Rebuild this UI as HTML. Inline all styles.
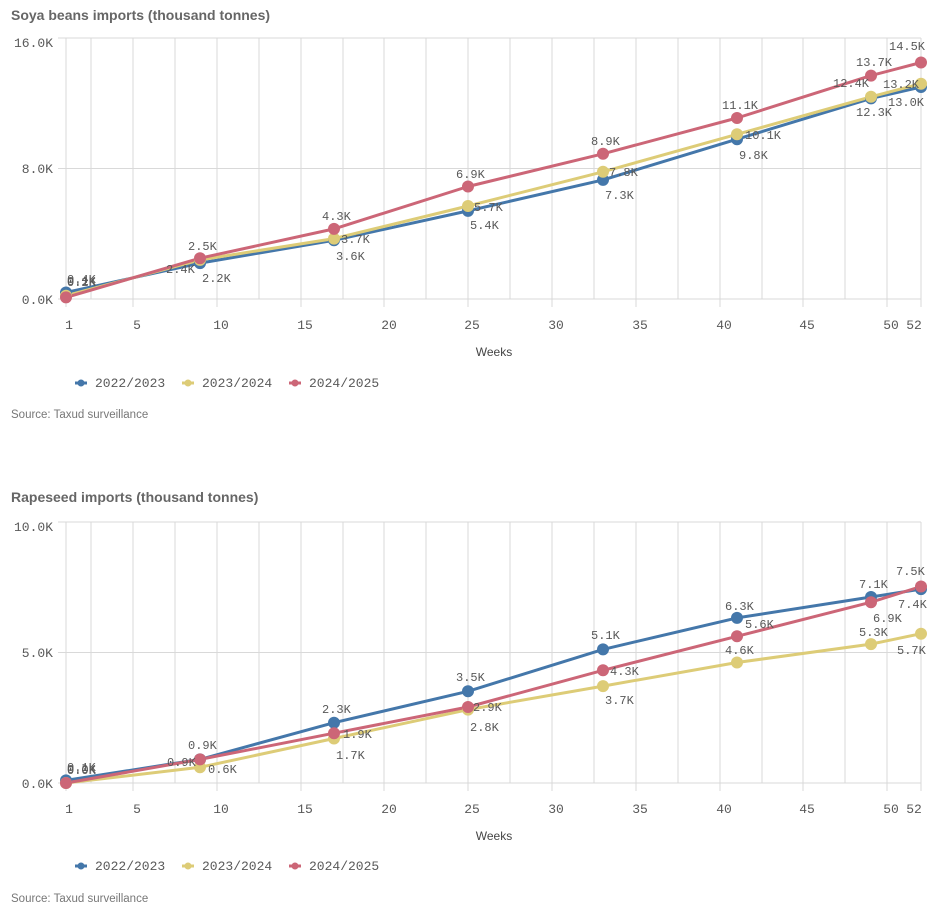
<!DOCTYPE html>
<html><head><meta charset="utf-8"><style>
body{margin:0;background:#fff;width:942px;height:916px;overflow:hidden}
svg{display:block}
.t{font-family:"Liberation Sans",sans-serif;font-weight:bold;font-size:14px;fill:#666}
.m{font-family:"Liberation Mono",monospace;font-size:12px;fill:#595959}
.k{font-family:"Liberation Mono",monospace;font-size:13px;fill:#595959}
.s{font-family:"Liberation Sans",sans-serif;font-size:11.5px;fill:#777}
.w{font-family:"Liberation Sans",sans-serif;font-size:12px;fill:#444}
.g line{stroke:#d9d9d9;stroke-width:1}
.l{fill:none;stroke-width:3;stroke-linejoin:round}
</style></head><body>
<svg width="942" height="916" viewBox="0 0 942 916">
<defs>
<g id="grid" class="g">
<line x1="91" y1="0" x2="91" y2="261"/><line x1="133" y1="0" x2="133" y2="269"/><line x1="175" y1="0" x2="175" y2="261"/><line x1="217" y1="0" x2="217" y2="269"/><line x1="259" y1="0" x2="259" y2="261"/><line x1="301" y1="0" x2="301" y2="269"/><line x1="343" y1="0" x2="343" y2="261"/><line x1="384" y1="0" x2="384" y2="269"/><line x1="426" y1="0" x2="426" y2="261"/><line x1="468" y1="0" x2="468" y2="269"/><line x1="510" y1="0" x2="510" y2="261"/><line x1="552" y1="0" x2="552" y2="269"/><line x1="594" y1="0" x2="594" y2="261"/><line x1="636" y1="0" x2="636" y2="269"/><line x1="678" y1="0" x2="678" y2="261"/><line x1="720" y1="0" x2="720" y2="269"/><line x1="762" y1="0" x2="762" y2="261"/><line x1="803" y1="0" x2="803" y2="269"/><line x1="845" y1="0" x2="845" y2="261"/><line x1="887" y1="0" x2="887" y2="269"/><line x1="921" y1="0" x2="921" y2="269"/>
<line x1="66" y1="0" x2="66" y2="269"/>
<line x1="58" y1="0" x2="921" y2="0"/><line x1="58" y1="130.5" x2="921" y2="130.5"/><line x1="58" y1="261" x2="921" y2="261"/>
</g>
<g id="xt" class="k">
<text x="69" y="291" text-anchor="middle">1</text><text x="137" y="291" text-anchor="middle">5</text><text x="221" y="291" text-anchor="middle">10</text><text x="305" y="291" text-anchor="middle">15</text><text x="389" y="291" text-anchor="middle">20</text><text x="472" y="291" text-anchor="middle">25</text><text x="556" y="291" text-anchor="middle">30</text><text x="640" y="291" text-anchor="middle">35</text><text x="724" y="291" text-anchor="middle">40</text><text x="807" y="291" text-anchor="middle">45</text><text x="891" y="291" text-anchor="middle">50</text><text x="914" y="291" text-anchor="middle">52</text>
<text class="w" x="494" y="318" text-anchor="middle">Weeks</text>
</g>
<g id="leg">
<line x1="75" y1="0" x2="87" y2="0" stroke="#4477aa" stroke-width="3"/><circle cx="81" cy="0" r="3.5" fill="#4477aa"/>
<text class="k" x="95" y="4">2022/2023</text>
<line x1="182" y1="0" x2="194" y2="0" stroke="#ddcc77" stroke-width="3"/><circle cx="188" cy="0" r="3.5" fill="#ddcc77"/>
<text class="k" x="202" y="4">2023/2024</text>
<line x1="289" y1="0" x2="301" y2="0" stroke="#cc6677" stroke-width="3"/><circle cx="295" cy="0" r="3.5" fill="#cc6677"/>
<text class="k" x="309" y="4">2024/2025</text>
</g>
</defs>

<!-- Chart 1 -->
<text class="t" x="11" y="20">Soya beans imports (thousand tonnes)</text>
<g transform="translate(0,38)"><use href="#grid"/><use href="#xt"/></g>
<g class="k" text-anchor="end"><text x="53" y="47">16.0K</text><text x="53" y="173">8.0K</text><text x="53" y="304">0.0K</text></g>

<polyline class="l" stroke="#4477aa" points="66,292.5 200,263.1 334,240.3 468,210.9 603,179.9 737,139.2 871,98.4 921,87"/>
<polyline class="l" stroke="#ddcc77" points="66,295.7 200,259.9 334,238.6 468,206 603,171.8 737,134.3 871,96.8 921,83.7"/>
<polyline class="l" stroke="#cc6677" points="66,297.4 200,258.2 334,228.9 468,186.5 603,153.8 737,118 871,75.6 921,62.5"/>
<g fill="#4477aa"><circle cx="66" cy="292.5" r="6"/><circle cx="200" cy="263.1" r="6"/><circle cx="334" cy="240.3" r="6"/><circle cx="468" cy="210.9" r="6"/><circle cx="603" cy="179.9" r="6"/><circle cx="737" cy="139.2" r="6"/><circle cx="871" cy="98.4" r="6"/><circle cx="921" cy="87" r="6"/></g>
<g fill="#ddcc77"><circle cx="66" cy="295.7" r="6"/><circle cx="200" cy="259.9" r="6"/><circle cx="334" cy="238.6" r="6"/><circle cx="468" cy="206" r="6"/><circle cx="603" cy="171.8" r="6"/><circle cx="737" cy="134.3" r="6"/><circle cx="871" cy="96.8" r="6"/><circle cx="921" cy="83.7" r="6"/></g>
<g fill="#cc6677"><circle cx="66" cy="297.4" r="6"/><circle cx="200" cy="258.2" r="6"/><circle cx="334" cy="228.9" r="6"/><circle cx="468" cy="186.5" r="6"/><circle cx="603" cy="153.8" r="6"/><circle cx="737" cy="118" r="6"/><circle cx="871" cy="75.6" r="6"/><circle cx="921" cy="62.5" r="6"/></g>
<g class="m">
<text x="67" y="283">0.4K</text><text x="67" y="286">0.2K</text><text x="67" y="285">0.1K</text>
<text x="188" y="250">2.5K</text><text x="166" y="273">2.4K</text><text x="202" y="282">2.2K</text>
<text x="322" y="220">4.3K</text><text x="341" y="243">3.7K</text><text x="336" y="260">3.6K</text>
<text x="456" y="178">6.9K</text><text x="474" y="211">5.7K</text><text x="470" y="229">5.4K</text>
<text x="591" y="145">8.9K</text><text x="609" y="176">7.8K</text><text x="605" y="199">7.3K</text>
<text x="722" y="109">11.1K</text><text x="745" y="139">10.1K</text><text x="739" y="159">9.8K</text>
<text x="856" y="66">13.7K</text><text x="833" y="87">12.4K</text><text x="856" y="116">12.3K</text>
<text x="889" y="50">14.5K</text><text x="883" y="88">13.2K</text><text x="888" y="106">13.0K</text>
</g>
<g transform="translate(0,383)"><use href="#leg"/></g>
<text class="s" x="11" y="418">Source: Taxud surveillance</text>

<!-- Chart 2 -->
<text class="t" x="11" y="502">Rapeseed imports (thousand tonnes)</text>
<g transform="translate(0,522)"><use href="#grid"/><use href="#xt"/></g>
<g class="k" text-anchor="end"><text x="53" y="531">10.0K</text><text x="53" y="657">5.0K</text><text x="53" y="788">0.0K</text></g>

<polyline class="l" stroke="#4477aa" points="66,780.4 200,759.4 334,722.7 468,691.3 603,649.4 737,617.9 871,597 921,589.1"/>
<polyline class="l" stroke="#ddcc77" points="66,783 200,767.3 334,738.5 468,709.6 603,686.1 737,662.5 871,644.1 921,633.7"/>
<polyline class="l" stroke="#cc6677" points="66,783 200,759.4 334,733.2 468,707 603,670.3 737,636.3 871,602.2 921,586.5"/>
<g fill="#4477aa"><circle cx="66" cy="780.4" r="6"/><circle cx="200" cy="759.4" r="6"/><circle cx="334" cy="722.7" r="6"/><circle cx="468" cy="691.3" r="6"/><circle cx="603" cy="649.4" r="6"/><circle cx="737" cy="617.9" r="6"/><circle cx="871" cy="597" r="6"/><circle cx="921" cy="589.1" r="6"/></g>
<g fill="#ddcc77"><circle cx="66" cy="783" r="6"/><circle cx="200" cy="767.3" r="6"/><circle cx="334" cy="738.5" r="6"/><circle cx="468" cy="709.6" r="6"/><circle cx="603" cy="686.1" r="6"/><circle cx="737" cy="662.5" r="6"/><circle cx="871" cy="644.1" r="6"/><circle cx="921" cy="633.7" r="6"/></g>
<g fill="#cc6677"><circle cx="66" cy="783" r="6"/><circle cx="200" cy="759.4" r="6"/><circle cx="334" cy="733.2" r="6"/><circle cx="468" cy="707" r="6"/><circle cx="603" cy="670.3" r="6"/><circle cx="737" cy="636.3" r="6"/><circle cx="871" cy="602.2" r="6"/><circle cx="921" cy="586.5" r="6"/></g>
<g class="m">
<text x="67" y="771">0.1K</text><text x="67" y="774">0.0K</text><text x="67" y="773">0.0K</text>
<text x="188" y="749">0.9K</text><text x="167" y="766">0.9K</text><text x="208" y="773">0.6K</text>
<text x="322" y="713">2.3K</text><text x="343" y="738">1.9K</text><text x="336" y="759">1.7K</text>
<text x="456" y="681">3.5K</text><text x="473" y="711">2.9K</text><text x="470" y="731">2.8K</text>
<text x="591" y="639">5.1K</text><text x="610" y="675">4.3K</text><text x="605" y="704">3.7K</text>
<text x="725" y="610">6.3K</text><text x="745" y="628">5.6K</text><text x="725" y="654">4.6K</text>
<text x="859" y="588">7.1K</text><text x="873" y="622">6.9K</text><text x="859" y="636">5.3K</text>
<text x="896" y="575">7.5K</text><text x="898" y="608">7.4K</text><text x="897" y="654">5.7K</text>
</g>
<g transform="translate(0,866)"><use href="#leg"/></g>
<text class="s" x="11" y="902">Source: Taxud surveillance</text>
</svg>
</body></html>
